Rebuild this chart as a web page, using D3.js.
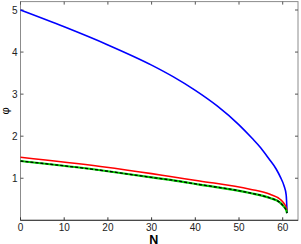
<!DOCTYPE html>
<html>
<head>
<meta charset="utf-8">
<script src="https://cdn.jsdelivr.net/npm/d3@7"></script>
<style>
body { margin: 0; background: #fff; }
svg text { font-family: "Liberation Sans", Arial, sans-serif; }
</style>
</head>
<body>
<div id="chart"></div>
<script>
// values
var blueN   = [0, 10, 20, 30, 35, 40, 45, 50, 53, 55, 57, 58.5, 59.5, 60.3, 60.8, 61.0];
var bluePhi = [5.00, 4.60, 4.17, 3.69, 3.41, 3.09, 2.72, 2.27, 1.95, 1.72, 1.44, 1.22, 1.02, 0.82, 0.60, 0.17];

var redN   = [0, 18.3, 30, 34.3, 41, 52.5, 57.1, 59.4, 60.3, 60.8, 61.0];
var redPhi = [1.50, 1.28, 1.11, 1.04, 0.935, 0.74, 0.62, 0.50, 0.40, 0.30, 0.22];

var greenN   = [0, 18.3, 30, 34.3, 41, 52.5, 57.1, 59.4, 60.3, 60.8, 61.0];
var greenPhi = [1.41, 1.19, 1.02, 0.96, 0.85, 0.65, 0.53, 0.42, 0.32, 0.24, 0.17];

var xTicks = [0, 10, 20, 30, 40, 50, 60];
var yTicks = [1, 2, 3, 4, 5];

var width = 301, height = 244;
var m = {left: 20.5, right: 298, top: 1.6, bottom: 220.3};

var x = d3.scaleLinear().domain([0, 63.5]).range([m.left, m.right]);
var y = d3.scaleLinear().domain([0, 5.2]).range([m.bottom, m.top]);

var svg = d3.select("#chart").append("svg")
    .attr("width", width)
    .attr("height", height);

function zip(a, b) { return a.map(function(v, i) { return [v, b[i]]; }); }

var line = d3.line()
    .x(function(d) { return x(d[0]); })
    .y(function(d) { return y(d[1]); })
    .curve(d3.curveMonotoneX);

// box
svg.append("rect")
    .attr("x", m.left).attr("y", m.top)
    .attr("width", m.right - m.left).attr("height", m.bottom - m.top)
    .attr("fill", "none").attr("stroke", "#8c8c8c").attr("stroke-width", 1);

// ticks (inward, matlab style)
var tickLen = 3;
svg.append("g").selectAll("line").data(xTicks).enter().append("line")
    .attr("x1", function(d) { return x(d); }).attr("x2", function(d) { return x(d); })
    .attr("y1", m.bottom).attr("y2", m.bottom - tickLen)
    .attr("stroke", "#333");
svg.append("g").selectAll("line").data(xTicks).enter().append("line")
    .attr("x1", function(d) { return x(d); }).attr("x2", function(d) { return x(d); })
    .attr("y1", m.top).attr("y2", m.top + tickLen)
    .attr("stroke", "#555");
svg.append("g").selectAll("line").data(yTicks).enter().append("line")
    .attr("x1", m.left).attr("x2", m.left + tickLen)
    .attr("y1", function(d) { return y(d); }).attr("y2", function(d) { return y(d); })
    .attr("stroke", "#555");
svg.append("g").selectAll("line").data(yTicks).enter().append("line")
    .attr("x1", m.right).attr("x2", m.right - tickLen)
    .attr("y1", function(d) { return y(d); }).attr("y2", function(d) { return y(d); })
    .attr("stroke", "#555");

// bottom axis line darker
svg.append("line")
    .attr("x1", m.left).attr("x2", m.right).attr("y1", m.bottom).attr("y2", m.bottom)
    .attr("stroke", "#333").attr("stroke-width", 1);

// tick labels
svg.append("g").selectAll("text").data(xTicks).enter().append("text")
    .attr("x", function(d) { return x(d); })
    .attr("y", m.bottom + 10.3)
    .attr("text-anchor", "middle")
    .attr("font-size", 10)
    .attr("fill", "#222")
    .text(function(d) { return d; });
svg.append("g").selectAll("text").data(yTicks).enter().append("text")
    .attr("x", m.left - 3)
    .attr("y", function(d) { return y(d) + 3.5; })
    .attr("text-anchor", "end")
    .attr("font-size", 10)
    .attr("fill", "#222")
    .text(function(d) { return d; });

// axis labels
svg.append("text")
    .attr("x", x(30.5)).attr("y", 243.5)
    .attr("text-anchor", "middle")
    .attr("font-size", 12.5).attr("font-weight", "bold")
    .text("N");
svg.append("text")
    .attr("transform", "translate(9," + y(2.6) + ") rotate(-90)")
    .attr("text-anchor", "middle")
    .attr("font-size", 11)
    .text("\u03c6");

// curves
svg.append("path").datum(zip(blueN, bluePhi))
    .attr("d", line).attr("fill", "none")
    .attr("stroke", "#0000ff").attr("stroke-width", 1.6);
svg.append("path").datum(zip(redN, redPhi))
    .attr("d", line).attr("fill", "none")
    .attr("stroke", "#ff0000").attr("stroke-width", 1.6);
svg.append("path").datum(zip(greenN, greenPhi))
    .attr("d", line).attr("fill", "none")
    .attr("stroke", "#00cc00").attr("stroke-width", 2.2);
svg.append("path").datum(zip(greenN, greenPhi))
    .attr("d", line).attr("fill", "none")
    .attr("stroke", "#000").attr("stroke-width", 1.3)
    .attr("stroke-dasharray", "3,2");
</script>
</body>
</html>
